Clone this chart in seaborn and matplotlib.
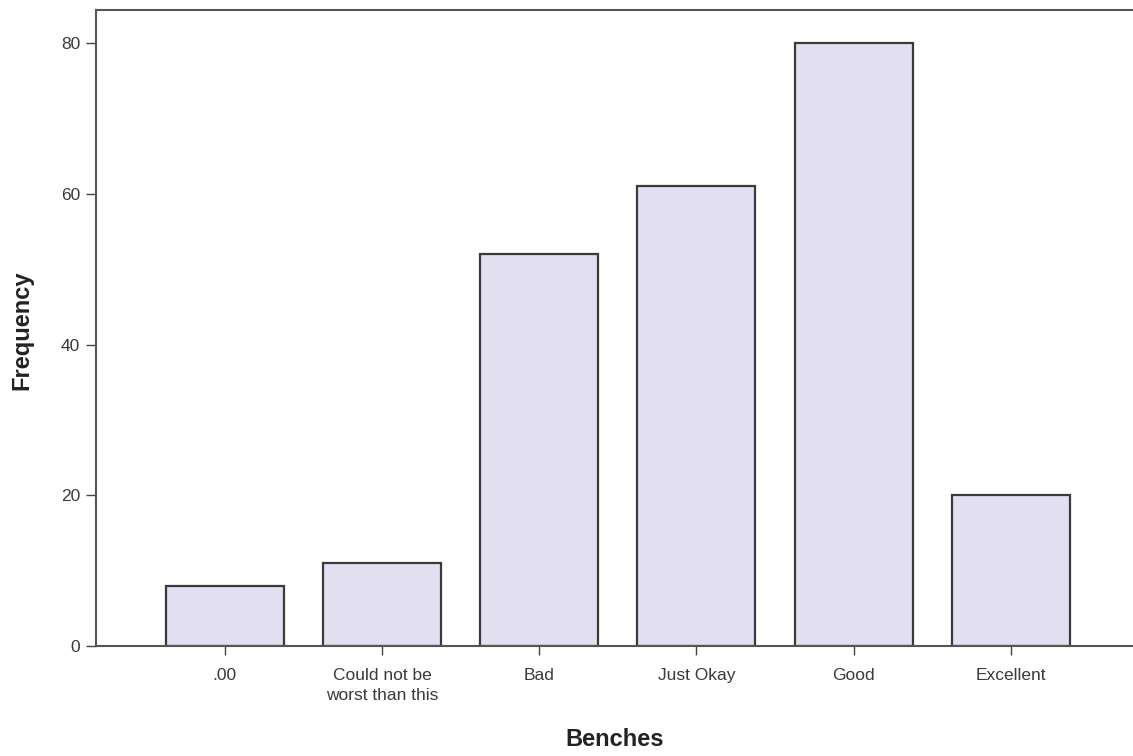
import matplotlib
matplotlib.use("Agg")
import matplotlib.pyplot as plt
import seaborn as sns
import pandas as pd

categories = [".00", "Could not be\nworst than this", "Bad", "Just Okay", "Good", "Excellent"]
frequencies = [8, 11, 52, 61, 80, 20]
yticks = [0, 20, 40, 60, 80]

sns.set_style("white")
plt.rcParams['font.family'] = ['Liberation Sans', 'DejaVu Sans']

df = pd.DataFrame({"Benches": categories, "Frequency": frequencies})

fig = plt.figure(figsize=(11.33, 7.56), dpi=100)
ax = fig.add_axes([96/1133, (756-646)/756, (1133-96)/1133 + 0.01, (646-10)/756])

sns.barplot(data=df, x="Benches", y="Frequency", order=categories, color="#e1dff0",
            edgecolor="#3a3a3a", linewidth=1.6, width=0.75, saturation=1, ax=ax)

ax.set_ylim(0, 84.4)
ax.set_xlim(-0.82, 5.85)
ax.set_yticks(yticks)
ax.set_yticklabels([str(v) for v in yticks])
ax.tick_params(axis="y", which="major", direction="out", length=7.5, width=1,
               color="#444444", labelsize=12.5, labelcolor="#3a3a3a", left=True, pad=4)
ax.tick_params(axis="x", which="major", direction="out", length=6.5, width=1,
               color="#444444", labelsize=12.5, labelcolor="#3a3a3a", bottom=True, pad=9)
for lbl in ax.get_xticklabels():
    lbl.set_linespacing(1.45)
for s in ["left", "top", "bottom"]:
    ax.spines[s].set_color("#555555")
    ax.spines[s].set_linewidth(1.5)
ax.spines["right"].set_visible(False)

ax.set_xlabel("Benches", fontsize=17, fontweight="bold", color="#222222")
ax.set_ylabel("Frequency", fontsize=17, fontweight="bold", color="#222222")
ax.xaxis.label.set_va("center")
ax.yaxis.label.set_va("center")
ax.xaxis.set_label_coords((614-96)/1047, (646-739)/636)
ax.yaxis.set_label_coords((22-96)/1047, (646-330)/636)

fig.savefig("out.png", dpi=100, facecolor="white")
